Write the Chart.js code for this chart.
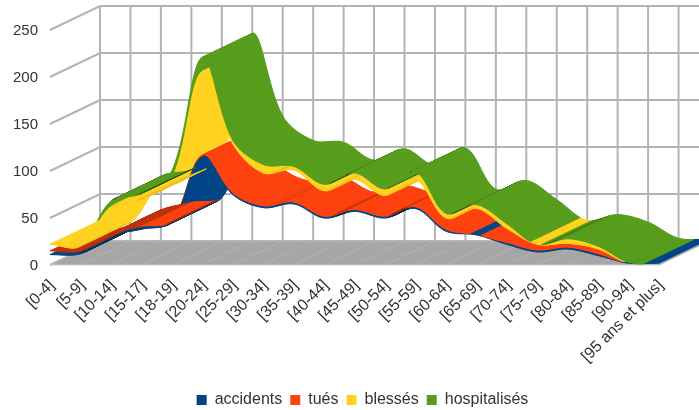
<!DOCTYPE html>
<html>
<head>
<meta charset="utf-8">
<script src="https://cdn.jsdelivr.net/npm/chart.js@4"></script>
<style>
  body { margin: 0; background: #fff; }
</style>
</head>
<body>
<canvas id="myChart" width="699" height="410"></canvas>
<script>
const categories = ['[0-4]', '[5-9]', '[10-14]', '[15-17]', '[18-19]', '[20-24]', '[25-29]', '[30-34]', '[35-39]', '[40-44]', '[45-49]', '[50-54]', '[55-59]', '[60-64]', '[65-69]', '[70-74]', '[75-79]', '[80-84]', '[85-89]', '[90-94]', '[95 ans et plus]'];
const accidents = [11, 12, 31, 38, 46, 115, 75, 61, 65, 50, 57, 50, 60, 36, 32, 22, 14, 17, 10, 2, 2];
const tues = [4, 3, 2, 3, 1, 2, 2, 2, 2, 2, 2, 2, 2, 2, 0.3, 2, 2, 2, 2, 0, 0];
const blesses = [7, 5, 29, 29, 44, 89, 52, 35, 34, 27, 32, 22, 29, 12, 28, 15, 6, 4, 5, 0, 0];
const hospitalises = [0, 0, 6, 6, 9, 15, 4, 9, 4, 7, 7, 7, 8, 5, 4, 5, 0, 5, 3, 1, 0];

const colors = ['#004586', '#ff420e', '#ffd320', '#579d1c'];
const textColor = '#333';
const depth = { x: 50, y: -24 };
const steps = 14;

const shade = (hex, k) => {
  const n = parseInt(hex.slice(1), 16);
  return `rgb(${((n >> 16) & 255) * k},${((n >> 8) & 255) * k},${(n & 255) * k})`;
};

// back wall, floor and side wall, placed from the chart's own scales
const walls = {
  id: 'walls',
  beforeDatasetsDraw(chart) {
    const { ctx, scales: { x, y } } = chart;
    const y0 = y.getPixelForValue(0);
    const left = x.getPixelForTick(0);
    const right = x.getPixelForTick(categories.length - 1);
    ctx.save();
    ctx.fillStyle = '#a6a6a6';
    ctx.beginPath();
    ctx.moveTo(left, y0);
    ctx.lineTo(left + depth.x, y0 + depth.y);
    ctx.lineTo(right + depth.x, y0 + depth.y);
    ctx.lineTo(right, y0);
    ctx.closePath();
    ctx.fill();

    ctx.strokeStyle = '#b3b3b3';
    ctx.lineWidth = 1;
    x.ticks.forEach((t, i) => {
      const px = x.getPixelForTick(i);
      ctx.beginPath();
      ctx.moveTo(px, y0);
      ctx.lineTo(px + depth.x, y0 + depth.y);
      ctx.stroke();
    });
    ctx.lineWidth = 2;
    x.ticks.forEach((t, i) => {
      const px = x.getPixelForTick(i);
      ctx.beginPath();
      ctx.moveTo(px + depth.x, y0 + depth.y);
      ctx.lineTo(px + depth.x, y.getPixelForValue(250) + depth.y);
      ctx.stroke();
    });
    y.ticks.forEach(t => {
      const py = y.getPixelForValue(t.value);
      ctx.beginPath();
      ctx.moveTo(left, py);
      ctx.lineTo(left + depth.x, py + depth.y);
      ctx.lineTo(right + depth.x, py + depth.y);
      ctx.stroke();
    });
    ctx.lineWidth = 1;
    ctx.strokeStyle = '#d0d0d0';
    ctx.beginPath();
    ctx.moveTo(left, y0);
    ctx.lineTo(right, y0);
    ctx.stroke();
    ctx.restore();
  }
};

// each series is swept along the depth: the visible side of a slice decides the paint order
const bezier = (a, b, t) => {
  const u = 1 - t;
  return {
    x: u * u * u * a.x + 3 * u * u * t * a.cp2x + 3 * u * t * t * b.cp1x + t * t * t * b.x,
    y: u * u * u * a.y + 3 * u * u * t * a.cp2y + 3 * u * t * t * b.cp1y + t * t * t * b.y
  };
};

const ribbons = {
  id: 'ribbons',
  afterDatasetsDraw(chart) {
    const { ctx, scales: { y } } = chart;
    const under = [[], [], [], []];
    const over = [[], [], [], []];
    const lines = chart.data.datasets.map((ds, s) => {
      const line = chart.getDatasetMeta(s).dataset;
      line.updateControlPoints(chart.chartArea, 'x');
      return line.points;
    });
    lines.forEach((pts, s) => {
      for (let i = 0; i < pts.length - 1; i++) {
        let p = bezier(pts[i], pts[i + 1], 0);
        for (let k = 1; k <= steps; k++) {
          const q = bezier(pts[i], pts[i + 1], k / steps);
          // no thickness here means no area for this series
          const below = s > 0 ? bezier(lines[s - 1][i], lines[s - 1][i + 1], k / steps).y : y.getPixelForValue(0);
          const thick = below - q.y;
          const cross = (q.x - p.x) * depth.y - (q.y - p.y) * depth.x;
          const slope = (q.y - p.y) / (q.x - p.x) - depth.y / depth.x;
          let k2 = 1 - 0.4 * Math.exp(-(slope * slope) / 0.03);
          if (s === 1 && i < 3) k2 = Math.min(k2, 0.75);
          if (s === 2) k2 = Math.max(k2, 0.92);
          if (thick > 0.4) (cross > 0 ? under : over)[s].push({ p, q, color: shade(colors[s], k2) });
          p = q;
        }
      }
    });
    const paint = sl => {
      ctx.fillStyle = sl.color;
      ctx.strokeStyle = sl.color;
      ctx.lineWidth = 1;
      ctx.lineJoin = 'round';
      ctx.beginPath();
      ctx.moveTo(sl.p.x, sl.p.y);
      ctx.lineTo(sl.q.x, sl.q.y);
      ctx.lineTo(sl.q.x + depth.x, sl.q.y + depth.y);
      ctx.lineTo(sl.p.x + depth.x, sl.p.y + depth.y);
      ctx.closePath();
      ctx.fill();
      ctx.stroke();
    };
    ctx.save();
    for (let s = 3; s >= 0; s--) under[s].forEach(paint);
    for (let s = 0; s <= 3; s++) over[s].forEach(paint);
    ctx.restore();
  }
};

const moveLegend = {
  id: 'moveLegend',
  beforeDraw(chart) {
    chart.legend.left = 66;
    chart.legend.top = 384;
  }
};

const makeSet = (label, data, i) => ({
  label,
  data,
  backgroundColor: colors[i],
  borderColor: colors[i],
  borderWidth: 0,
  pointRadius: 0,
  fill: false,
  tension: 0.35,
  capBezierPoints: false
});

const ctx = document.getElementById('myChart').getContext('2d');
const myChart = new Chart(ctx, {
  type: 'line',
  data: {
    labels: categories,
    datasets: [
      makeSet('accidents', accidents, 0),
      makeSet('tués', tues, 1),
      makeSet('blessés', blesses, 2),
      makeSet('hospitalisés', hospitalises, 3)
    ]
  },
  plugins: [walls, ribbons, moveLegend],
  options: {
    responsive: false,
    animation: false,
    layout: { padding: { top: 30, right: 40, left: 0, bottom: 0 } },
    scales: {
      x: {
        offset: false,
        grid: { display: false },
        border: { display: false },
        afterFit: s => { s.height = 111; },
        ticks: {
          autoSkip: false,
          minRotation: 45,
          maxRotation: 45,
          labelOffset: 2,
          color: textColor,
          font: { family: 'Liberation Sans', size: 16 }
        }
      },
      y: {
        stacked: true,
        min: 0,
        max: 250,
        grid: { display: false },
        border: { display: false },
        afterFit: s => { s.width = 50; },
        ticks: {
          stepSize: 50,
          padding: 4,
          labelOffset: 1,
          color: textColor,
          font: { family: 'Liberation Sans', size: 15 }
        }
      }
    },
    plugins: {
      tooltip: { enabled: false },
      legend: {
        position: 'bottom',
        labels: {
          boxWidth: 10,
          boxHeight: 10,
          padding: 8,
          color: textColor,
          font: { family: 'Liberation Sans', size: 16 }
        }
      }
    }
  }
});
</script>
</body>
</html>
